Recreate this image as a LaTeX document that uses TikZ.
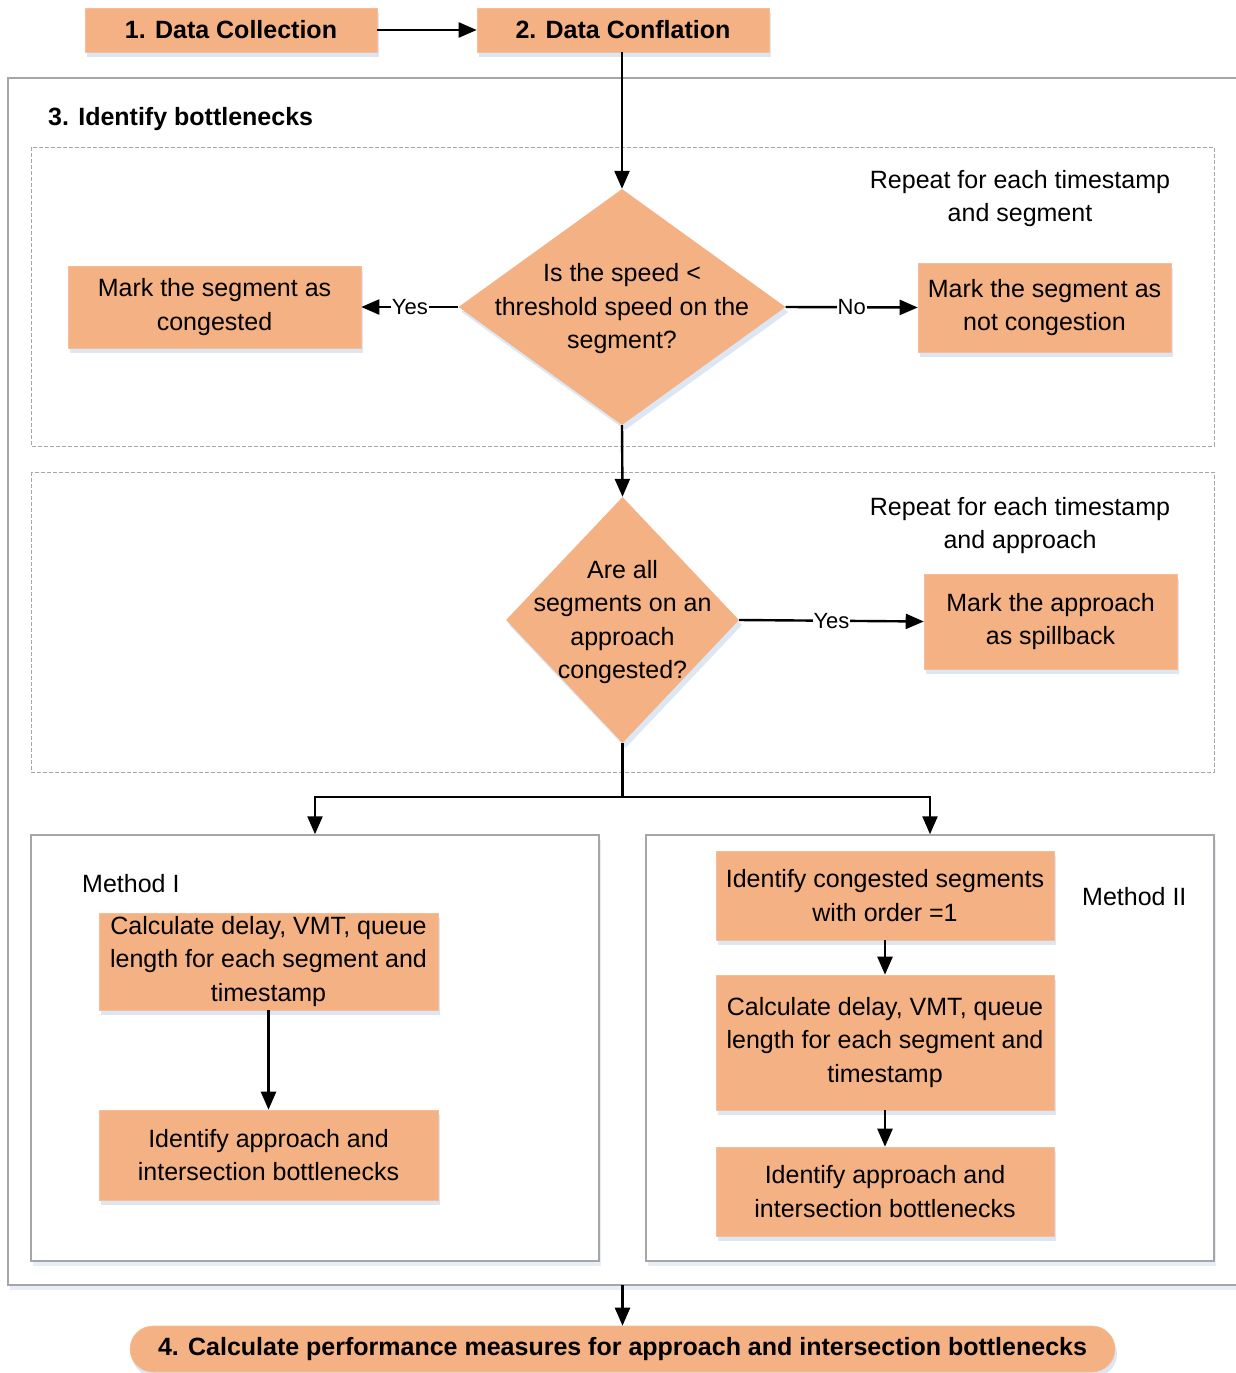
\documentclass[tikz,border=0pt]{standalone}
\usepackage{fontspec}
\setmainfont{Liberation Sans}
\usetikzlibrary{arrows.meta,shapes.geometric,shadows}
\definecolor{boxfill}{HTML}{F4B183}
\definecolor{shade}{HTML}{DDE7F3}
\definecolor{frame}{HTML}{A6A6A6}
\tikzset{
  arr/.style={draw=black, line width=2.4pt, -{Triangle[length=18pt,width=15pt]}},
  plain/.style={draw=black, line width=2.4pt},
  box/.style={fill=boxfill, draw=boxfill!85!white, line width=0.6pt, inner sep=0pt, align=center,
    font=\fontsize{25}{33.5}\selectfont,
    drop shadow={shadow xshift=2pt, shadow yshift=-5pt, fill=shade, opacity=1}},
  bbox/.style={box, font=\fontsize{25}{33.5}\selectfont\bfseries},
  diam/.style={diamond, fill=boxfill, inner sep=0pt,
    drop shadow={shadow xshift=3pt, shadow yshift=-5pt, fill=shade, opacity=1}},
  txt/.style={align=center, inner sep=0pt, font=\fontsize{25}{33.5}\selectfont},
  lbl/.style={fill=white, inner sep=1pt, font=\fontsize{22}{26}\selectfont},
  dbox/.style={draw=frame, line width=0.9pt, dash pattern=on 4pt off 2pt},
  sbox/.style={draw=frame, line width=1.5pt, fill=white,
    drop shadow={shadow xshift=2pt, shadow yshift=-5pt, fill=shade!70!white, opacity=1}},
}
\begin{document}
\begin{tikzpicture}[x=1pt,y=-1pt]
\useasboundingbox (0,0) rectangle (1235,1373);
% outer frame
\draw[sbox] (8,78) rectangle (1250,1285);
\node[anchor=west, inner sep=0pt, font=\fontsize{25}{30}\selectfont\bfseries] (t3) at (48,119) {3. Identify bottlenecks};
% dashed regions
\draw[dbox] (31,147) rectangle (1214,446);
\draw[dbox] (31,472) rectangle (1214,772);
% method frames
\node[sbox, minimum width=568pt, minimum height=426pt, inner sep=0pt] (m1) at (315,1048) {};
\node[sbox, minimum width=568pt, minimum height=426pt, inner sep=0pt] (m2) at (930,1048) {};

% top boxes
\node[bbox, minimum width=292pt, minimum height=44pt] (b1) at (231,30) {1. Data Collection};
\node[bbox, minimum width=292pt, minimum height=44pt] (b2) at (623,30) {2. Data Conflation};

% diamond 1
\node[diam, minimum width=327pt, minimum height=236pt] (d1) at (622,307) {};
\node[txt] (d1t) at (622,309) {Is the speed <\\threshold speed on the\\segment?};
\node[box, minimum width=293pt, minimum height=82pt] (cong) at (214.5,307) {Mark the segment as\\congested};
\node[box, minimum width=253pt, minimum height=89pt] (ncong) at (1044.5,307.5) {Mark the segment as\\not congestion};
\node[txt] (rep1) at (1020,198.5) {Repeat for each timestamp\\and segment};

% diamond 2
\node[diam, minimum width=233pt, minimum height=246pt] (d2) at (622.5,620) {};
\node[txt] (d2t) at (622.5,622) {Are all\\segments on an\\approach\\congested?};
\node[box, minimum width=253pt, minimum height=95pt] (spill) at (1050.5,621.5) {Mark the approach\\as spillback};
\node[txt] (rep2) at (1020,525.5) {Repeat for each timestamp\\and approach};

% method I
\node[anchor=west, inner sep=0pt, font=\fontsize{25}{30}\selectfont] (mt1) at (82,884) {Method I};
\node[box, minimum width=339pt, minimum height=97pt] (m1a) at (268.5,961.5) {Calculate delay, VMT, queue\\length for each segment and\\timestamp};
\node[box, minimum width=339pt, minimum height=90pt] (m1b) at (268.5,1155) {Identify approach and\\intersection bottlenecks};

% method II
\node[anchor=west, inner sep=0pt, font=\fontsize{25}{30}\selectfont] (mt2) at (1082,897) {Method II};
\node[box, minimum width=338pt, minimum height=89pt] (m2a) at (885,895.5) {Identify congested segments\\with order =1};
\node[box, minimum width=338pt, minimum height=135pt] (m2b) at (885,1042.5) {Calculate delay, VMT, queue\\length for each segment and\\timestamp};
\node[box, minimum width=338pt, minimum height=89pt] (m2c) at (885,1191.5) {Identify approach and\\intersection bottlenecks};

% final
\node[bbox, rounded corners=23pt, minimum width=985pt, minimum height=46pt] (fin) at (622.5,1349) {4. Calculate performance measures for approach and intersection bottlenecks};

% connectors
\draw[arr] (b1.east) -- (b2.west);
\draw[arr] (d1.north |- b2.south) -- (d1.north);
\draw[arr] (d1.west) -- node[lbl] {Yes} (cong.east);
\draw[arr] (d1.east) -- node[lbl] {No} (ncong.west);
\draw[arr] (d1.south) -- (d2.north);
\draw[arr] (d2.east) -- node[lbl] {Yes} (spill.west);
\coordinate (split) at (622.5,797);
\draw[plain] (d2.south) -- (split);
\draw[arr] (split) -| (m1.north);
\draw[arr] (split) -| (m2.north);
\draw[arr] (m1a.south) -- (m1b.north);
\draw[arr] (m2a.south) -- (m2b.north);
\draw[arr] (m2b.south) -- (m2c.north);
\coordinate (ob) at (622.5,1285);
\draw[arr] (ob) -- (fin.north);
\end{tikzpicture}
\end{document}
